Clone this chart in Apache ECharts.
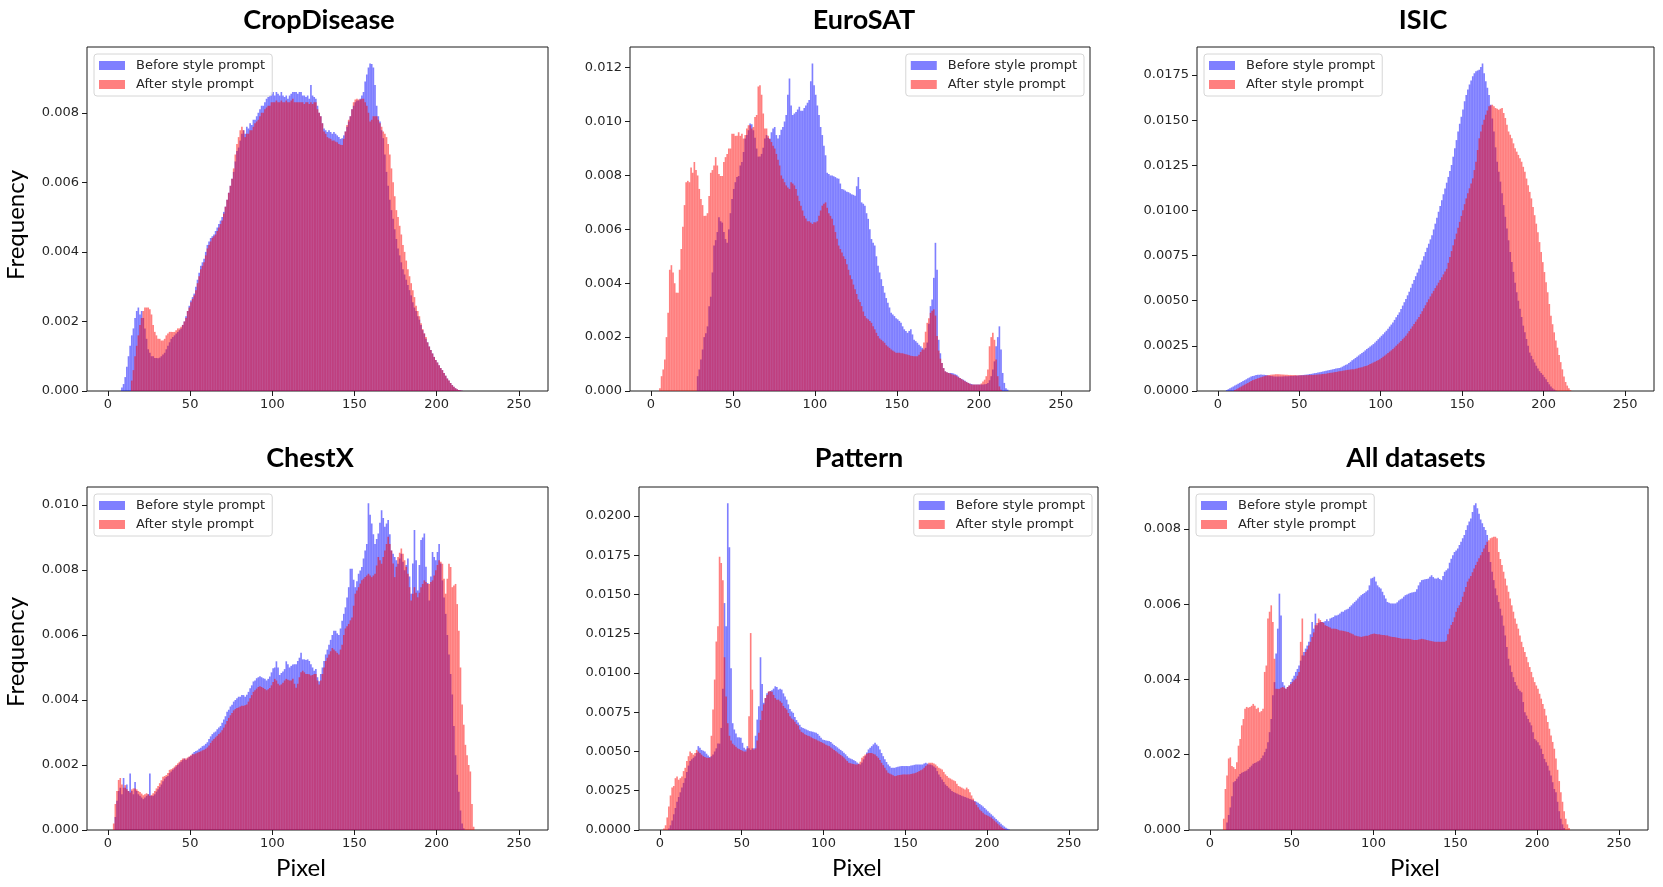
<!DOCTYPE html>
<html><head><meta charset="utf-8">
<script src="https://cdn.jsdelivr.net/npm/echarts@6/dist/echarts.min.js"></script>
<style>html,body{margin:0;padding:0;background:#fff}#c{width:1663px;height:887px}</style>
</head><body><div id="c"></div>
<script>
// ---------- DATA (frequency values in units of 1e-4, one value per pixel bin, starting at *Start) ----------
const xTicks = [0, 50, 100, 150, 200, 250];
const seriesNames = ['Before style prompt', 'After style prompt'];
const titles = ['CropDisease', 'EuroSAT', 'ISIC', 'ChestX', 'Pattern', 'All datasets'];

const cropTicks = [0, 0.002, 0.004, 0.006, 0.008];
const cropBeforeStart = 8;
const cropBefore = [1,2,4,7,10,13,16,18,21,23, 24,22,23,21,18,15,12,11,10,10, 9.5,9.5,9.4,9.6,10,10.5,11,12,13,14,
15,15.5,16,16.5,17,17.5,18,19,20,21.5, 23,24.5,26,27,28,30,32,34,36,37, 38,40,42,43,44,44.5,45,46,47,48,
49,50,51.5,53,55,57,59,61,63,66, 69,70,72,74,75,74,76,75.5,77,76.5, 78,78,79,80,81,82,82,83,84,84.5,
85,86,86,85,86,85.5,85,86,85,84.5, 85,84,85,85.5,86,86,86,85.5,86,86, 85,85,84.5,85,84,88,85,84.5,84,82,
80,79,77,75.5,75,74.5,75,74.5,74,74.5, 74,73.5,73,72.5,72.7,73.5,74.6,76,77.5,79, 81,82,83,83.5,83.5,84,85,86,89,91,
93,94.2,94,93,88,82,79,77.5,75,72.7, 68,63,59,55,52,49.5,46.5,43.7,41,39, 37,35,33.5,32,30.5,29,27.5,25.5,24,23,
21.5,20.5,19,17.5,16.5,15,14,12.8,11.8,10.8, 9.8,8.9,8.2,7.4,6.6,6,5.2,4.4,3.6,3, 2.3,1.7,1.2,0.8,0.5,0.3,0.2,0.1];
const cropAfterStart = 14;
const cropAfter = [3,6,10,13,16,19,21,23,24,24, 24,23.5,22,19,17,16,15,15,14.5,14.5, 15,16,16.5,17,17,17,17,17.5,18,18,
18.5,19,20,21,23,24,25.5,26.5,27.5,29, 31,33,35,36,37,39,41,42,43,44, 44.5,45,46,47,48,49,51,53,55,57,
59,61,64,68,71,73,75,76,75,73, 74,74,75,75,76,77,77.5,78,79,80, 80,81,81.5,82,82,83,83,83,83.5,83,
83,83.5,83,83,83.5,83,83,83.5,84,83, 83,83,83,83,83,82.5,83,83,82.5,83, 82.5,83,83,81,80,79,77,74.6,74,73,
72.7,72.5,72,72,71.7,71.5,71,70.8,70.7,72.5, 74.6,76.5,78,79,81,83,83.8,84,83.8,83.8, 84,84,83,82,80,77.5,78,79,79,79,
78,77,76,74.6,74,73,71,68,64,60, 56,52,50,47.5,45,42,40,37.5,35,33, 31,29,27,24.5,23,21.5,19.5,17.8,16.6,15.5,
14,12.8,11.8,10.8,9.8,8.9,8.2,7.4,6.6,6, 5.2,4.4,3.6,3,2.3,1.7,1.2,0.8,0.5,0.3, 0.2,0.1];

const euroTicks = [0, 0.002, 0.004, 0.006, 0.008, 0.010, 0.012];
const euroBeforeStart = 28;
const euroBefore = [5.5,8,11.7,15.4,20,21.4,24,31.5,35,44, 54,56,59,64.5,63,62.5,59,56.4,55,60,
66,71.3,75,77.5,79.4,79.8,83.7,85,88.7,93.7, 95,96.8,99.3,99,96.8,94,90,87,87,88,
90.3,93.7,95,94,93.7,96,97.4,98,95,93.7, 95,97,98,100,102.4,110,116,106,102.4,103,
103.6,104.5,105.5,104,104,105,106,107,108,115, 121.6,113.5,110,106,102.4,98,95,91,87.5,81,
80.5,80,80,79.7,79.4,79,78.8,77,75,74.8, 74.4,74,73.8,73.4,73,72.8,72.5,76,79.4,75,
70,69.5,68.8,66,63.9,60,56.4,55,54,50, 46.5,44,41.5,39,36.5,34.5,32.8,31,29,28.4,
27.8,27,26.6,26,25.3,24,22.9,22.3,21.6,22.3, 22.9,21,19,18.5,17.9,17.2,16.6,16,15.4,16,
18,25,31.5,34,42,55,45,19,14,10.4, 8.5,7.3,7,6.7,6.7,6.7,6.5,6.2,6,5.4,
4.8,4.5,4.2,3.8,3.4,3,2.8,2.6,2.4,2.4, 2.4,2.4,2.4,2.4,2.4,2.5,2.6,3,4,5.5,
8,11,16.6,20,24,15.4,6.7,3,1,0.5];
const euroAfterStart = 5;
const euroAfter = [1,5.5,8,11.7,20,29,45,46.7,44,40, 36.5,36.5,45,52.7,61,69,77.5,78,77.5,83,
81,85,82,80,75,71.3,69,65,65,66, 72.4,81,82,83.7,86.8,83.7,80.5,79.8,79.8,85,
86.8,88,90,90,95.5,95.5,94.7,94.7,96,94.7, 95.5,93.7,95,97.4,98.6,98.6,97.4,98,101.7,102.4,
113,113.5,110,103,97.4,97.4,94.7,93.5,92.4,91, 90,88,85.8,83.7,80,78.8,77.5,76.3,75.5,75,
77.5,77,76.3,75,72.5,70.5,68.8,67,65,64, 63,63,62.5,62,62.6,62.6,63,65,67,68.8,
69.5,70,68,66,65,63.9,61.5,59,56.5,54, 52.7,51.4,50,49,47,45,43,41.5,39.5,37.8,
36,34,33,31.5,29.5,27.8,27,26.6,26,25.3, 24,22.9,21.6,20.4,19.5,19,18.5,17.9,17,16.5,
16,15.4,15,14.6,14.2,14.2,14.2,14,14,13.8, 13.6,13.5,13.3,13.1,13,12.9,12.9,12.9,13.5,14.5,
15.4,18,22,25.3,27,29,29.8,30.3,28,20.4, 15,12,10.4,8.5,7.3,7,6.7,6.5,6.2,6,
5.8,5.5,5.1,4.8,4.4,4,3.6,3.3,3,2.7, 2.4,2.4,2.4,2.4,2.4,2.4,2.8,3.5,4.2,5.5,
8,16.6,20,21.6,19,11.7,5.5,1.7,0.5];

const isicTicks = [0, 0.0025, 0.005, 0.0075, 0.01, 0.0125, 0.015, 0.0175];
const isicBeforeStart = 5;
const isicBefore = [0.5,1,1.5,2,2.5,3,3.5,4,4.5,5, 5.5,6,6.5,7,7.5,8,8.3,8.5,8.8,9, 9,9.2,9,9,8.8,8.7,8.5,8.3,8.2,8,
8,8,8,8,8,8.1,8.2,8.2,8.2,8.3, 8.3,8.4,8.5,8.5,8.6,8.7,8.8,8.9,9,9.1, 9.2,9.4,9.5,9.7,9.9,10,10.2,10.4,10.6,10.8,
11,11.2,11.4,11.6,11.8,12,12.2,12.4,12.6,12.8, 13,13.5,14,14.5,14.8,15.5,16.2,17,17.6,18.3,
19,19.7,20.4,21,21.7,22.5,23.2,23.9,24.6,25.3, 26,26.9,27.8,28.7,29.7,30.6,31.5,32.5,33.4,34.5,
35.7,36.8,38,39.4,40.8,42.2,43.6,45.4,47.3,49.2, 51,53,55,57.2,59.4,61.5,63.6,65.6,67.7,70,
72.3,74.7,77,79.3,81.6,84,86.3,89.5,92.7,96, 99.3,102.5,105.7,109,112.2,115.4,118.6,121.9,125.2,129.8,
134.5,139,143.8,148,152,156,160.5,164,167,169.8, 172,174.4,176,177.2,177.6,178,179.5,181.5,176,171.6,
168,164,158.6,151,143.8,135,127,121.5,116,109.5, 103,96.5,90,83.5,77,71.5,66,60,54.7,50,
45.5,41,36.2,32.5,28.8,25,21.3,19.5,17.6,15.8, 14,12.5,11,10,9,7.7,6.5,5,3.7,2.5, 1.5,0.8,0.3];
const isicAfterStart = 10;
const isicAfter = [0.5,1,1.5,2,2.5,3,3.5,4,4.5,5, 5.5,6,6.3,6.6,7,7.3,7.6,7.9,8.2,8.5, 8.7,8.9,9,9.1,9.2,9.3,9.3,9.3,9.2,9.2,
9.1,9,9,8.9,8.9,8.8,8.8,8.8,8.7,8.7, 8.7,8.7,8.7,8.7,8.8,8.8,8.8,8.9,8.9,9, 9,9.1,9.2,9.3,9.4,9.5,9.6,9.8,10,10.1,
10.2,10.4,10.5,10.7,10.9, 11,11.2,11.4,11.5,11.7,11.8,11.9,12,12,12.3, 12.5,12.8,13,13.2,13.5,13.8,14,14.4,14.9,15.3,
15.8,16.2,16.7,17.1,17.6,18.3,19,19.6,20.3,21, 21.8,22.5,23.2,24.1,25,25.9,26.8,27.7,28.7,29.6,
30.6,31.9,33.2,34.5,35.8,37.1,38.4,39.7,41,42.6, 44.2,45.9,47.5,49.1,50.8,52.4,54,55.5,57,58.5,
60,61.5,63,64.6,66.2,67.7,71,74.2,77.5,80.7, 84,87.2,90.5,93.7,97,100.2,103.5,106.7,109.5,112.3,
115,117.8,122.4,127,133.5,140,143.8,147.5,150.3,153, 155.4,157.7,158.2,158.6,157.7,156.8,156.3,155.8,156.3,156.8,
154,151.2,147.5,143.8,141.9,140,137.2,134.5,132.6,130.8, 128.9,127,124.2,121.5,117.7,114,110.3,106.7,102,97.4,
92.7,88,82.5,77,71.4,65.9,60.3,54.7,48.2,41.7, 37,32.5,28,24,20,16,12,8,5,3, 1.5,0.5];

const chestTicks = [0, 0.002, 0.004, 0.006, 0.008, 0.010];
const chestBeforeStart = 4;
const chestBefore = [4,9,12,13,11,16,13,14,12, 17.4,12,11,14.8,12,11,10.5,10,9.5,10,
10.5,11,17.4,10.5,10.5,11,11.8,12.5,13.2,14, 15,15.8,16.3,16.6,17.5,18,18.5,19,19.5,20,
20.5,21,21.5,22,21.5,22,22.5,22.8,23.5,24, 24.3,24.5,25,25.3,25.8,26,26.5,27,28,28.8,
29.5,30,30.3,31,31.5,32,33,34,35,36.4, 37,38,38.5,39.5,40,40.5,41,41,41.5,41.5,
41,41.6,42.5,43.6,44.5,45.7,46,46.7,47,47.3, 47,46.7,46.5,46,46.5,47.2,48.5,49.8,50,51.9,
50,47.7,48.3,48.8,49.5,51.9,51,50,50.5,50.9, 51,51,52,53,54.5,52.5,52.5,52.3,52.5,52,
51,50,49,49.5,47,45.8,48,50,52,54, 55.5,57,58.5,60,61.3,61.3,60.5,60,62,64.4,
66.5,68.5,71.5,74.7,80.4,80.4,77,74.7,76.5,78.8, 79.8,80.9,83.5,86,88,100.5,97,94.3,91,88,
89.5,91.2,94.5,98.4,96,93.3,94.3,95.4,91,86, 85,84,83,81.9,83.5,85,82.5,79.9,81.5,83.5,
78,72.7,82,92.3,83,73.7,81.5,89.2,90,91.2, 81,76,70.6,78,85.5,84,83,85.5,88,82,
76.8,71.5,66.5,60,54,48,41.7,32,23,17, 11.8,6,2,0.5];
const chestAfterStart = 3;
const chestAfter = [2,8,12,15.4,16,14,13,13.8,12.5,12, 11.5,12.5,12.8,12.8,12.5,12,11.7,11.2,10.7,11,
11.3,11,10.5,10.8,11.3,12,12.8,13.5,14.4,15.3, 16.4,16.6,16.9,17.5,18.5,18.7,19,19.5,20,20.5,
21,21.5,22,22,22,22.3,22.6,23,23.3,23.3, 23.5,23.8,24,24.2,24.5,24.7,25,25.4,26,26.8,
27.5,28,28.5,29,29.5,30,30.7,31.5,32.5,33.5, 34.5,35.3,36,36.8,37.2,37.5,37.7,38,38.2,38.2,
38.4,38.6,39.5,40.5,41.5,42.5,43,43.5,44,44.2, 44,43.7,43.4,43,43.3,43.7,44.5,45.5,46.5,46,
45,44.5,44.8,45.3,46,46.5,46.2,46,46,46.5, 45,43.8,45,47,48.5,49,48.5,48,48,47.9,
47.5,47.7,48,48,46,44.8,46,48,50,52, 53,54,55,56,55.5,55,54.5,54,55.5,57,
60,62,62.7,63.4,64.5,65.4,69,72.7,73.7,74.7, 75.8,76.8,77.3,77.8,78.3,78.8,78.3,77.8,78.3,78.8,
81.4,84,83,81.9,84,86,88,90.2,88,86, 82,77.8,81,84,85.3,86.6,85,83,81,78.8,
74.7,70.6,72.7,74.7,73,71.6,73,74.7,75.7,76.8, 76.3,75.7,75.7,76.3,76.8,78.3,79.9,81.5,83,82.5,
81.9,77.3,72.7,77.3,81.9,80.9,74.7,75.2,75.7,69.5, 61.3,50,38.6,32.4,26.2,23,20,18,8,1];

const patternTicks = [0, 0.0025, 0.005, 0.0075, 0.01, 0.0125, 0.015, 0.0175, 0.02];
const patternBeforeStart = 5;
const patternBefore = [1,3,6,10,14,18,21,24,27,30, 33,37,41,44,45,46,47,49,53.4,52.3,
51,50.5,50,48.6,47.5,46.5,47,48,50,52, 55,55,65,90,144.5,129.7,208,180,103,68,
64,61.4,59,59,58.7,55.5,52.3,51.3,53.4,52, 51,52,52,60,70.3,78.8,110,93,81,84,
87,88,88.5,89,90,91.5,91,89.4,90,89.4, 87,85,83,80,77,75.5,74.6,72,70,68.5,
67,65.5,65,64.5,64,63.5,63,62.8,62.5,62.2, 61.9,61.2,60,58.7,57.6,57.3,57,56.8,56.6,56,
55,54.2,53.4,52.6,51.8,51,50.2,49.2,48.2,47, 46,45.5,45,44.5,43.9,43,42.3,41.7,43,45,
47,49.3,51.3,52.3,53.4,54.5,55.5,54.4,53.4,51.2, 49,47,45,43.3,41.7,40.6,39.6,39.6,39.6,40,
40.2,40.5,40.7,40.7,40.7,40.7,40.7,40.7,41,41.2, 41.5,41.7,41.7,41.7,41.7,41.7,42.3,42.8,42.3,41.7,
41.7,41.2,40.4,39.6,37.5,35.4,33.8,32.2,30.6,29, 28,27,26,24.8,24.2,23.7,23.2,22.7,22.3,21.8,
21.4,21,20.6,20.2,19.8,19.4,19,18.5,18,17.3, 16.6,15.8,15,14,13,12,11,10,9,8, 7,6,5,4,3,2.2,1.5,0.8,0.3];
const patternAfterStart = 2;
const patternAfter = [1,3,8,15,22,27,28,33,34,32, 33,34,37.5,39.6,44,47,50,49,48,49,
51,50,49,48,47,46.5,46,46,46,60, 76.7,95.8,120,129.7,174,170,159,110,85,68,
60,57,55,54,53,52,51.5,51,50.5,50, 50,52,72.5,125.4,89.4,51.3,52,57,62,70,
76,80,84,86,88.3,88.3,88,86,84,83, 83,82,81,79,77.7,76.7,74.5,72.5,71,70.3,
69,67.5,66.5,64,62.5,61.9,61,60.5,60,59.7, 59,58.5,58,57.6,57,56.5,56,55.5,55,54.3,
53.8,53.4,52.6,51.8,51,50.2,49.4,48.6,47.8,47, 46.2,45,43.9,42.8,42.5,42.2,42,41.7,41.7,42,
43.5,46,47,48,48.5,49,49,49,48.5,48, 47,46,44.5,42.8,41.3,39.6,38,36.4,35.9,35.4,
34.8,34.3,34.5,34.8,35,35.2,35.4,35.4,35.4,35.4, 35.4,35.6,35.9,36.1,36.4,36.9,37.5,38,38.6,39.6,
40.7,41.7,42.8,42.8,42.8,42.3,41.7,40.6,39.6,39.1, 38.6,37,35.4,34.4,33.3,32.8,32.2,31.6,31.1,29.5,
28,27.5,27,26.4,25.8,27,26,24,22,20, 18,16,14.5,13,12,11,10,9.5,9,8.5, 8,7,6,5,4,3,2,1.2,0.6,0.2];

const allTicks = [0, 0.002, 0.004, 0.006, 0.008];
const allBeforeStart = 10;
const allBefore = [2,4,6,9,12.7,13,13.6,14.2,14.9,15.2, 15.4,15.6,15.8,16.2,16.7,17.1,17.6,17.8,18,18.3,
18.5,19.1,19.8,20.7,21.6,23.3,26,29.5,35.8,39.3, 46.9,53.5,62.8,57,39.3,38.4,37.5,38,38.4,39.3,
40.2,41,42,42.8,43.7,45,46.4,47.3,48.2,49, 50,52,55.3,53.5,57.5,54.4,55,55.3,55.3,55.3,
55.5,56,55.5,56.2,56.4,56.6,57,57,57.2,57.5, 58,58,58.4,58.6,58.8,59.3,59.7,60.2,60.6,61,
61.5,62,62.4,62.7,63,63.4,63.7,65,66.8,67, 67.3,66,65,64.5,64.2,63.3,62.4,61.5,60.6,60.4,
60.2,60.2,60.2,60.2,60.5,61,61.3,61.5,62,62.4, 62.6,62.8,63,63.1,63.2,63.3,64,65,65.8,66.4,
66.5,66.6,66.7,66.8,67.3,67.7,67.2,66.8,66.8,67, 66.7,66.4,67.5,68.6,69,69.5,71,72.1,73,73.9,
74.3,74.8,75.7,76.6,77.5,78.4,79.7,81,82,82.8, 84.5,86.3,86.8,85.5,84,82.5,81.5,80.5,79.7,78.4,
73.9,71.2,68.6,66.4,64.2,62.4,60.6,58.8,57,54.3, 51.7,48.6,45.5,43.7,42,40.6,39.3,38.4,37.5,37,
36.6,34,31.3,30.4,29.5,28.6,27.8,26,24.2,23.8, 23.3,22.5,21.6,20.2,18.9,18,17.1,15.8,14.5,12.7,
10.9,10,7.5,5,3,1.5,0.5];
const allAfterStart = 8;
const allAfter = [3,10.9,14.5,19,19.3,17,16.7,16.2,18,22.4, 24.2,27.8,29.5,32.2,32.7,32.5,32.7,33,33.5,33,
32.2,32.5,31.3,31.6,32.2,42,43.7,56.2,58,59.7, 55.3,45.5,37.5,37.5,37.5,37.8,38,37.8,37.5,38,
38.4,38.8,39.3,39.8,40.2,41,42,50,56.2,46.4, 47.3,48,49,50,51.3,52.5,54.4,55,56.2,55.8,
55.3,55,54.4,54.2,54,53.8,53.5,53.5,53.5,53.4, 53.2,53,53,52.9,52.8,52.7,52.6,52.4,52.2,52,
51.7,51.6,51.5,51.4,51.3,51.4,51.5,51.6,51.6,51.8, 52,52.1,52.2,52.1,52,52,51.9,51.8,51.8,51.7,
51.7,51.5,51.4,51.3,51.3,51.2,51.1,51,50.9,50.8, 50.8,50.8,50.8,50.8,50.7,50.6,50.5,50.5,50.5,50.6,
50.7,50.8,50.7,50.6,50.5,50.4,50.3,50.2,50.1,50, 50,50,50,50,50,50,50.3,52,53.5,54.5,
55.3,56.5,58,59,59.7,60.6,62,63.3,64.6,66, 66.8,67.5,68.5,69.5,70.4,71.3,72.2,73,73.9,74.8,
75.7,76.6,77,77.5,77.7,77.9,77.9,77.5,73.9,72, 70.4,68.6,66.8,65,63.3,61.5,59.7,58,56.2,54.8,
53.5,51.7,50,48.6,47.3,46,44.6,43.3,42,40.6, 39.3,38.4,37.5,36.2,34.9,33.5,32.2,30.4,28.7,26.9,
25.1,23.4,21.6,19,16,13,10,7.5,5,3, 1.5,0.5];

// ---------- LAYOUT ----------
const W = 1663;
const panels = [
  {b: cropBefore, bs: cropBeforeStart, a: cropAfter, as: cropAfterStart, ticks: cropTicks, dec: 3,
   grid: {left: 87, top: 47, width: 461, height: 344}, legendRight: false, tx: 319, ty: 20},
  {b: euroBefore, bs: euroBeforeStart, a: euroAfter, as: euroAfterStart, ticks: euroTicks, dec: 3,
   grid: {left: 630, top: 47, width: 460, height: 344}, legendRight: true, tx: 864, ty: 20},
  {b: isicBefore, bs: isicBeforeStart, a: isicAfter, as: isicAfterStart, ticks: isicTicks, dec: 4,
   grid: {left: 1197, top: 47, width: 457, height: 344}, legendRight: false, tx: 1423, ty: 20},
  {b: chestBefore, bs: chestBeforeStart, a: chestAfter, as: chestAfterStart, ticks: chestTicks, dec: 3,
   grid: {left: 87, top: 487, width: 461, height: 343}, legendRight: false, tx: 310, ty: 458},
  {b: patternBefore, bs: patternBeforeStart, a: patternAfter, as: patternAfterStart, ticks: patternTicks, dec: 4,
   grid: {left: 639, top: 487, width: 459, height: 343}, legendRight: true, tx: 859, ty: 458},
  {b: allBefore, bs: allBeforeStart, a: allAfter, as: allAfterStart, ticks: allTicks, dec: 3,
   grid: {left: 1189, top: 487, width: 459, height: 343}, legendRight: false, tx: 1416, ty: 458}
];

const BLUE = 'rgba(0,0,255,0.5)';
const RED = 'rgba(255,0,0,0.5)';
const tickFont = {fontFamily: 'DejaVu Sans', fontSize: 13, color: '#262626'};

function toPoints(arr, start) { return arr.map((v, k) => [start + k, v * 1e-4]); }

function renderBar(params, api) {
  const x = api.value(0), y = api.value(1);
  const p0 = api.coord([x, y]);
  const p1 = api.coord([x + 1, 0]);
  return {type: 'rect', shape: {x: p0[0], y: p0[1], width: p1[0] - p0[0], height: p1[1] - p0[1]},
          style: {fill: api.visual('color')}};
}

const grids = [], xAxes = [], yAxes = [], series = [], legends = [], graphics = [];
panels.forEach((p, i) => {
  grids.push(Object.assign({show: true, borderColor: '#1a1a1a', borderWidth: 1, backgroundColor: 'transparent'}, p.grid));
  const maxVal = Math.max(Math.max.apply(null, p.b), Math.max.apply(null, p.a)) * 1e-4;
  xAxes.push({type: 'value', gridIndex: i, min: -12.75, max: 267.75, position: 'bottom',
    axisLine: {show: false, onZero: false}, splitLine: {show: false},
    axisTick: {show: true, length: 5, lineStyle: {color: '#1a1a1a', width: 1}, customValues: xTicks},
    axisLabel: Object.assign({margin: 7, customValues: xTicks}, tickFont)});
  yAxes.push({type: 'value', gridIndex: i, min: 0, max: maxVal * 1.05, position: 'left',
    axisLine: {show: false, onZero: false}, splitLine: {show: false},
    axisTick: {show: true, length: 5, lineStyle: {color: '#1a1a1a', width: 1}, customValues: p.ticks},
    axisLabel: Object.assign({margin: 8, customValues: p.ticks, formatter: v => v.toFixed(p.dec)}, tickFont)});
  series.push({type: 'custom', name: seriesNames[0], xAxisIndex: i, yAxisIndex: i, renderItem: renderBar,
    encode: {x: 0, y: 1}, itemStyle: {color: BLUE}, data: toPoints(p.b, p.bs), z: 2});
  series.push({type: 'custom', name: seriesNames[1], xAxisIndex: i, yAxisIndex: i, renderItem: renderBar,
    encode: {x: 0, y: 1}, itemStyle: {color: RED}, data: toPoints(p.a, p.as), z: 3});
  const lg = {orient: 'vertical', top: p.grid.top + 7, data: seriesNames, icon: 'rect',
    itemWidth: 26, itemHeight: 9, itemGap: 6, selectedMode: false,
    textStyle: {fontFamily: 'DejaVu Sans', fontSize: 13, color: '#262626', padding: [0, 0, 0, 6]},
    backgroundColor: 'rgba(255,255,255,0.8)', borderColor: '#d6d6d6', borderWidth: 1, borderRadius: 3,
    padding: [5, 7, 5, 5]};
  if (p.legendRight) lg.right = W - (p.grid.left + p.grid.width) + 6; else lg.left = p.grid.left + 7;
  legends.push(lg);
  graphics.push({type: 'text', x: p.tx, y: p.ty,
    style: {text: titles[i], fontFamily: 'Lato', fontWeight: 'bold', fontSize: 27, fill: '#000', align: 'center', verticalAlign: 'middle'}});
});
[225, 652].forEach(y => graphics.push({type: 'text', x: 16, y: y, rotation: Math.PI / 2,
  style: {text: 'Frequency', fontFamily: 'Lato', fontSize: 24, fill: '#000', align: 'center', verticalAlign: 'middle'}}));
[301, 857, 1415].forEach(x => graphics.push({type: 'text', x: x, y: 868,
  style: {text: 'Pixel', fontFamily: 'Lato', fontSize: 24, fill: '#000', align: 'center', verticalAlign: 'middle'}}));

const chart = echarts.init(document.getElementById('c'), null, {renderer: 'canvas'});
chart.setOption({animation: false, backgroundColor: '#fff', grid: grids, xAxis: xAxes, yAxis: yAxes,
  series: series, legend: legends, graphic: graphics});
</script></body></html>
